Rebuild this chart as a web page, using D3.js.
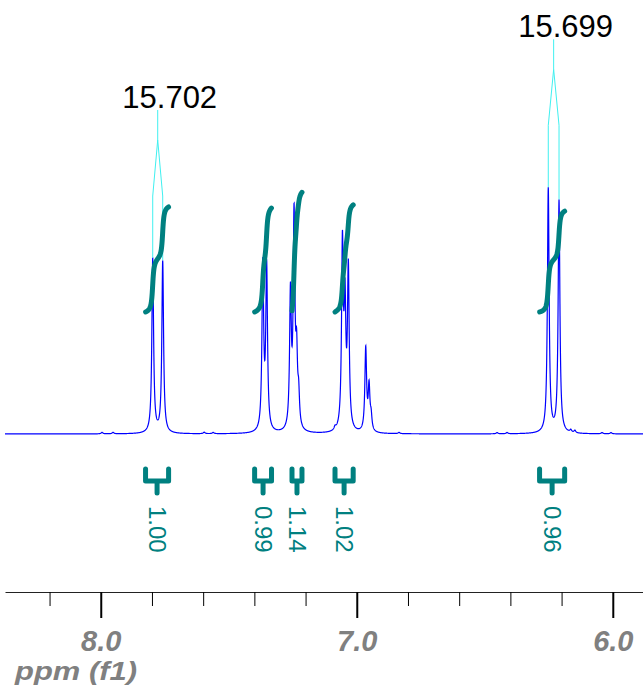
<!DOCTYPE html>
<html>
<head>
<meta charset="utf-8">
<script src="https://cdn.jsdelivr.net/npm/d3@7/dist/d3.min.js"></script>
<style>
  body { margin: 0; background: #fff; }
  text { font-family: "Liberation Sans", Arial, sans-serif; }
</style>
</head>
<body>
<div id="nmr"></div>
<script>
// peak list (ppm, height relative to the tallest line = 100)
var peakPpm = [7.797, 7.758, 7.367, 7.352, 7.259, 7.245, 7.235, 7.227,
  7.056, 7.046, 7.033, 6.965, 6.952, 6.944, 6.252, 6.210,
  7.995, 7.952, 7.596, 7.561, 7.085, 6.835, 6.452, 6.413, 6.164, 6.148, 6.042, 6.007];
var peakHeight = [70.5, 69.5, 67.0, 66.0, 54.0, 85.0, 27.0, 12.0,
  74.0, 47.0, 64.5, 33.5, 17.5, 5.5, 99, 94.0,
  0.6, 0.6, 0.6, 0.5, 1.2, 0.5, 0.5, 0.5, 1.0, 1.0, 0.5, 0.5];
var lineHalfWidth = 0.004; // ppm

// integrals
var integralStart = [7.825, 7.399, 7.253, 7.085, 6.286];
var integralEnd = [7.735, 7.333, 7.214, 7.014, 6.188];
var integralValue = [1.00, 0.99, 1.14, 1.02, 0.96];
var integralText = ["1.00", "0.99", "1.14", "1.02", "0.96"];

// J coupling labels (Hz) and the two lines of each doublet
var jText = ["15.702", "15.699"];
var jPeakA = [7.797, 6.252];
var jPeakB = [7.758, 6.210];

// axis
var majorTicks = [8.0, 7.0, 6.0];
var majorTickText = ["8.0", "7.0", "6.0"];
var minorTicks = [8.2, 7.8, 7.6, 7.4, 7.2, 6.8, 6.6, 6.4, 6.2];

var width = 643, height = 691;
var baseY = 434, axisY = 592;

var svg = d3.select("#nmr")
  .append("svg")
  .attr("width", width)
  .attr("height", height);

var xScale = d3.scaleLinear()
  .domain([8.374, 5.882])
  .range([5, 643]);

var yScale = d3.scaleLinear()
  .domain([0, 100])
  .range([baseY, 187]);

var intScale = d3.scaleLinear()
  .domain([0, 1])
  .range([312, 207]);

// build the trace from the peak list (lorentzian lines)
function intensity(ppm) {
  var s = 0;
  for (var i = 0; i < peakPpm.length; i++) {
    var d = ppm - peakPpm[i];
    s += peakHeight[i] * lineHalfWidth * lineHalfWidth / (lineHalfWidth * lineHalfWidth + d * d);
  }
  return s;
}

var spectrum = d3.range(8.374, 5.882, -0.0004).map(function(p) {
  return { ppm: p, val: intensity(p) };
});

var valueline = d3.line()
  .x(function(d) { return xScale(d.ppm); })
  .y(function(d) { return yScale(d.val); });

// J label connectors (drawn under the trace)
jText.forEach(function(t, i) {
  var xa = xScale(jPeakA[i]), xb = xScale(jPeakB[i]);
  var cx = (xa + xb) / 2;
  var topA = yScale(intensity(jPeakA[i])), topB = yScale(intensity(jPeakB[i]));
  var labelY = Math.min(topA, topB) - 150;
  var path = d3.path();
  path.moveTo(cx, labelY + 2);
  path.lineTo(cx, labelY + 32);
  path.lineTo(xa, labelY + 88);
  path.lineTo(xa, topA);
  path.moveTo(cx, labelY + 32);
  path.lineTo(xb, labelY + 88);
  path.lineTo(xb, topB);
  svg.append("path")
    .attr("d", path.toString())
    .attr("stroke", "#3ff0f0")
    .attr("stroke-width", 1)
    .style("fill", "none");
  svg.append("text")
    .attr("x", cx + 12)
    .attr("y", labelY)
    .style("font-size", "31px")
    .style("text-anchor", "middle")
    .style("fill", "#000")
    .text(t);
});

svg.append("path")
  .data([spectrum])
  .attr("d", valueline)
  .attr("stroke", "#0000ff")
  .attr("stroke-width", 1.2)
  .style("fill", "none");

// integral curves
integralValue.forEach(function(v, i) {
  var pts = spectrum.filter(function(d) {
    return d.ppm <= integralStart[i] && d.ppm >= integralEnd[i];
  });
  var total = d3.sum(pts, function(d) { return d.val; });
  var acc = 0;
  var curve = pts.map(function(d) {
    acc += d.val;
    return { ppm: d.ppm, cum: acc / total * v };
  });
  svg.append("path")
    .data([curve])
    .attr("d", d3.line()
      .x(function(d) { return xScale(d.ppm); })
      .y(function(d) { return intScale(d.cum); }))
    .attr("stroke", "#008080")
    .attr("stroke-width", 5)
    .attr("stroke-linecap", "round")
    .attr("stroke-linejoin", "round")
    .style("fill", "none");

  // bracket under the trace
  var x1 = xScale(integralStart[i]), x2 = xScale(integralEnd[i]), xm = (x1 + x2) / 2;
  var b = d3.path();
  b.moveTo(x1, 469); b.lineTo(x1, 481); b.lineTo(x2, 481); b.lineTo(x2, 469);
  b.moveTo(xm, 481); b.lineTo(xm, 493);
  svg.append("path")
    .attr("d", b.toString())
    .attr("stroke", "#008080")
    .attr("stroke-width", 5)
    .attr("stroke-linecap", "round")
    .attr("stroke-linejoin", "round")
    .style("fill", "none");

  svg.append("text")
    .attr("transform", "translate(" + xm + ",506) rotate(90)")
    .attr("dy", "0.35em")
    .style("font-size", "24px")
    .style("fill", "#008080")
    .text(integralText[i]);
});

// ppm axis
svg.append("g")
  .attr("transform", "translate(0," + axisY + ")")
  .call(d3.axisBottom(xScale).tickValues(minorTicks).tickSize(14).tickSizeOuter(0).tickFormat(""))
  .call(function(g) { g.select(".domain").attr("stroke", "#222"); });

var major = svg.append("g")
  .attr("transform", "translate(0," + axisY + ")")
  .call(d3.axisBottom(xScale)
    .tickValues(majorTicks)
    .tickSize(26)
    .tickSizeOuter(0)
    .tickPadding(12)
    .tickFormat(function(d, i) { return majorTickText[i]; }));

major.select(".domain").remove();
major.selectAll("line").attr("stroke-width", 2);
major.selectAll("text")
  .style("font-size", "29px")
  .style("font-weight", "bold")
  .style("font-style", "italic")
  .style("fill", "#808080");

svg.append("text")
  .attr("x", 15)
  .attr("y", 680)
  .attr("textLength", 122)
  .attr("lengthAdjust", "spacingAndGlyphs")
  .style("font-size", "25px")
  .style("font-weight", "bold")
  .style("font-style", "italic")
  .style("fill", "#808080")
  .text("ppm (f1)");
</script>
</body>
</html>
